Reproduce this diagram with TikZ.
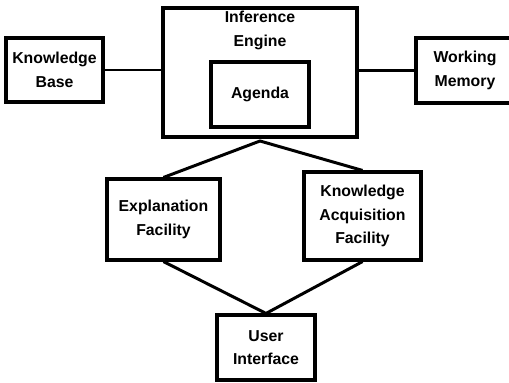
\documentclass[tikz,border=0pt]{standalone}
\usepackage{fontspec}
\setmainfont{Liberation Sans}
\usepackage{tikz}
\tikzset{
    common/.style={draw, rectangle, line width=1.8pt, align=center, font=\bfseries\fontsize{9}{13.3}\selectfont, inner sep=0pt},
    unit/.style={common, minimum width=1.96cm, minimum height=1.3cm},
    link/.style={line width=1.7pt}
}

\begin{document}
\begin{tikzpicture}[x=0.02cm, y=-0.02cm]
    \useasboundingbox (0,0) rectangle (509,382);
    \begin{scope}
        \clip (0,0) rectangle (509,382);
        \node[unit, minimum width=1.94cm, minimum height=1.28cm] (kb) at (54.5,70) {Knowledge\\Base};
        \node[common, minimum width=3.88cm, minimum height=2.58cm] (ie) at (260,72.5) {};
        \node[font=\bfseries\fontsize{9}{14}\selectfont, align=center] (ietext) at (260,30.5) {Inference\\Engine};
        \node[unit] (ag) at (260,94.5) {Agenda};
        \node[unit] (wm) at (465,70.5) {Working\\Memory};
        \node[common, minimum width=2.26cm, minimum height=1.62cm] (ef) at (163.5,219.5) {Explanation\\Facility};
        \node[common, minimum width=2.34cm, minimum height=1.76cm] (ka) at (362.5,216) {Knowledge\\Acquisition\\Facility};
        \node[unit] (ui) at (266,347.5) {User\\Interface};
        \coordinate (apex) at (260,141);

        \draw[link] (kb.east) -- (ie.west |- kb.east);
        \draw[link] (ie.east |- wm.west) -- (wm.west);
        \draw[link] (ef.north) -- (apex) -- (ka.north);
        \draw[link] (ef.south) -- (ui.north) -- (ka.south);
    \end{scope}
\end{tikzpicture}
\end{document}
